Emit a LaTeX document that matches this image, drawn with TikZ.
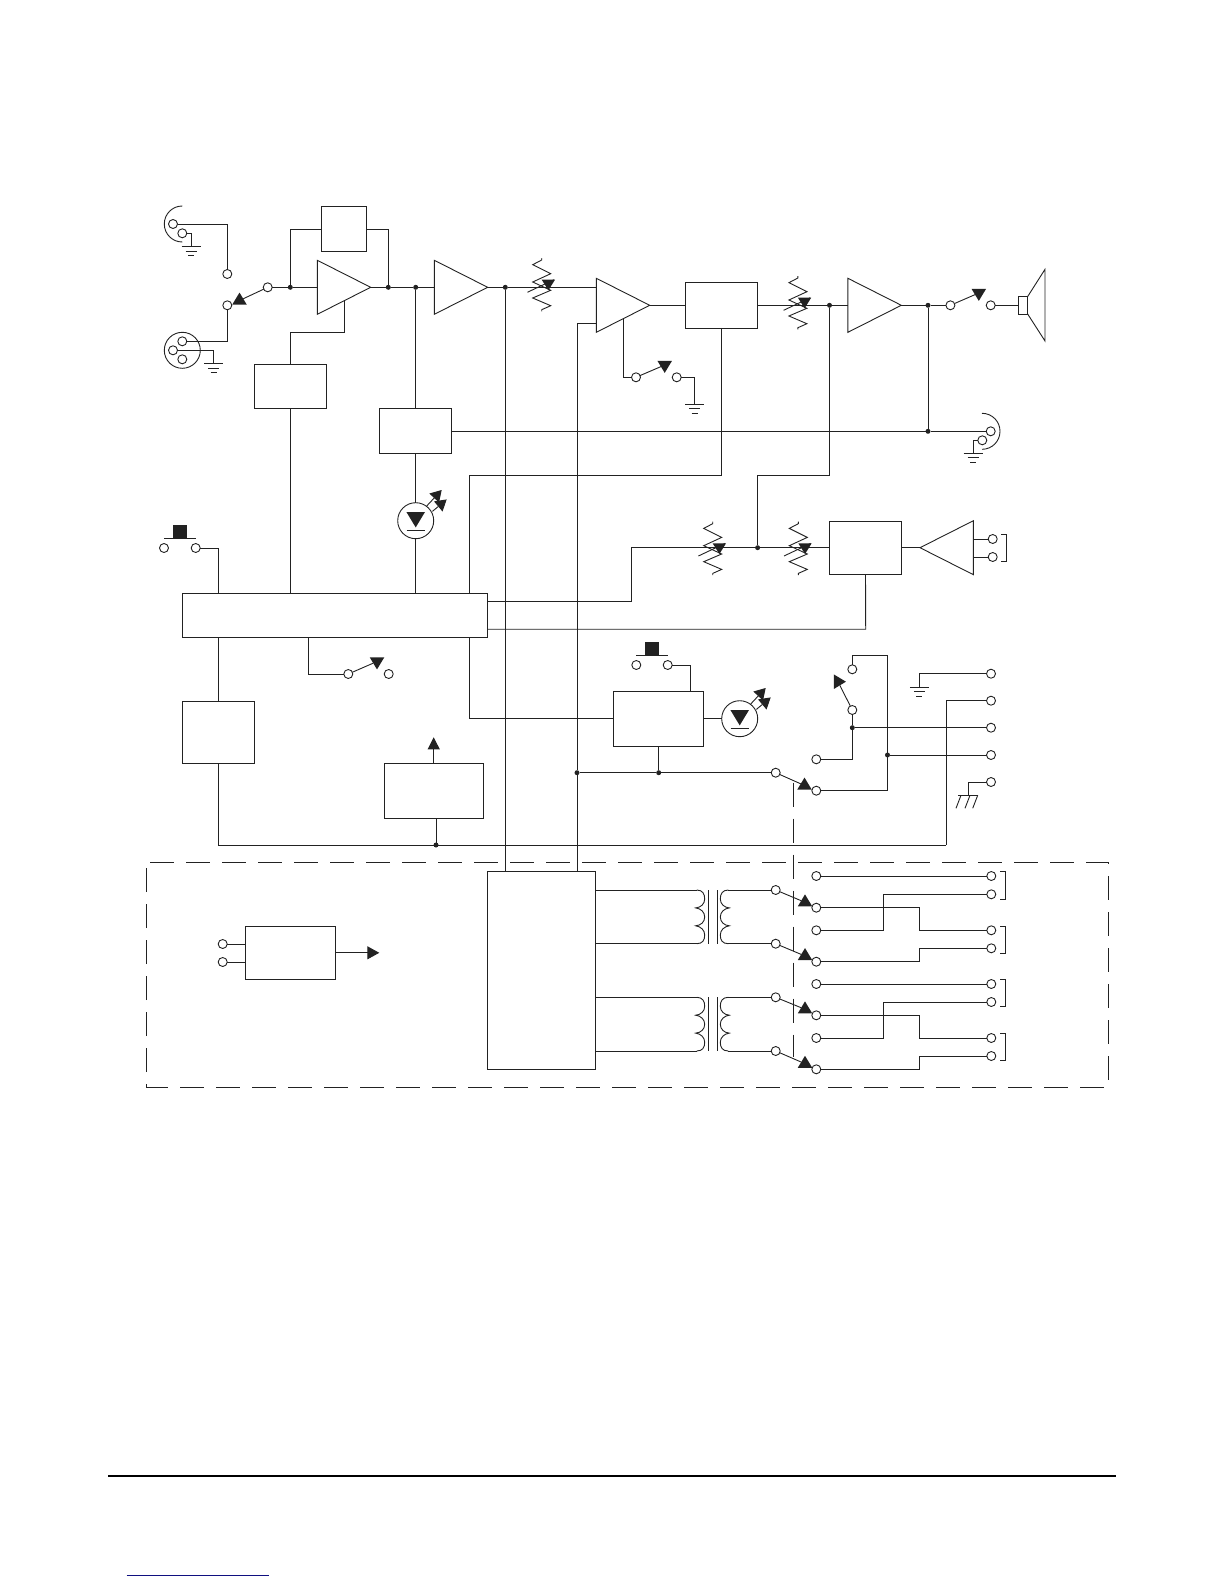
\documentclass[tikz,border=0pt]{standalone}
\usetikzlibrary{shapes.geometric,arrows.meta}
\definecolor{ink}{HTML}{222222}
\definecolor{linkblue}{HTML}{101080}
\tikzset{
	every node/.style={outer sep=0pt},
	blk/.style={draw=ink, rectangle, inner sep=0pt},
	term/.style={draw=ink, fill=white, circle, inner sep=0pt, minimum size=9pt},
	dotj/.style={fill=ink, circle, inner sep=0pt, minimum size=5pt},
	amp/.style={draw=ink, isosceles triangle, isosceles triangle stretches, inner sep=0pt, minimum width=54pt, minimum height=53.4pt, anchor=apex},
	tipm/.style={fill=ink, isosceles triangle, isosceles triangle stretches, inner sep=0pt, minimum width=14.5pt, minimum height=12pt, shape border rotate=#1},
	ring/.style={draw=ink, circle, inner sep=0pt, minimum size=36pt},
	gnd/.pic={
		\draw (-9.5,0) -- (9.5,0);
		\draw (-5.5,4.6) -- (5.5,4.6);
		\draw (-3,9.2) -- (3,9.2);
	},
	chassis/.pic={
		\draw (-10.4,0) -- (9,0);
		\draw (-7.7,0) -- (-12.7,13);
		\draw (1.3,0) -- (-3.7,13);
		\draw (9,0) -- (4,13);
	},
	vres/.pic={
		\draw (0,-26) -- (0,-24) -- (-9,-19.3) -- (9,-10.3) -- (-9,-2) -- (9,6.3) -- (-9,14) -- (9,21.7) -- (0,25.7) -- (0,27.3);
		\draw (-14.3,8.3) -- (12.3,-4.3);
		\fill (0,-4.3) -- (13.3,-4.3) -- (6.7,6.3) -- cycle;
	},
	halfjack/.pic={
		\draw (0,-18) .. controls (-10,-18) and (-18,-10) .. (-18,0) .. controls (-18,10) and (-10,18) .. (0,18);
	},
	ledin/.pic={
		\fill (-9.3,-8.7) -- (9.3,-8.7) -- (0,6.7) -- cycle;
		\draw (-9,9.3) -- (9,9.3);
		\draw[-{Triangle[length=11pt,width=13pt]}] (11,-14.7) -- (26,-30.7);
		\draw[-{Triangle[length=11pt,width=13pt]}] (16.7,-9.3) -- (31,-21.3);
	},
	pbtn/.pic={
		\draw (-16,0) -- (16,0);
		\fill (-7,-13) rectangle (7,0);
	},
	coil/.pic={
		\draw (0,0) .. controls (6,0) and (8,4) .. (8,9) .. controls (8,14) and (4,17.5) .. (-1,17.9) .. controls (4,18.5) and (8,22) .. (8,27) .. controls (8,32) and (4,35.5) .. (-1,35.8) .. controls (4,36.5) and (8,40) .. (8,45) .. controls (8,50) and (6,53.7) .. (0,53.7);
	},
}
\begin{document}
\begin{tikzpicture}[x=1pt, y=-1pt, line width=0.9pt, color=ink]
	\useasboundingbox (0,0) rectangle (1224,1584);
	% boxes
	\node[blk, minimum width=45.4pt, minimum height=45.4pt] (boxa) at (344,229) {};
	\node[blk, minimum width=72pt, minimum height=44.4pt] (boxb) at (290.3,386.5) {};
	\node[blk, minimum width=72pt, minimum height=45.2pt] (boxc) at (415.7,430.9) {};
	\node[blk, minimum width=305.4pt, minimum height=44pt] (boxd) at (335,615.3) {};
	\node[blk, minimum width=72.6pt, minimum height=45.3pt] (boxe) at (721.3,305.3) {};
	\node[blk, minimum width=72.4pt, minimum height=53.4pt] (boxf) at (865.5,547.7) {};
	\node[blk, minimum width=90.4pt, minimum height=55pt] (boxg) at (658.5,718.7) {};
	\node[blk, minimum width=72.4pt, minimum height=62.4pt] (boxh) at (218.5,732.5) {};
	\node[blk, minimum width=99.4pt, minimum height=55.4pt] (boxi) at (434,791) {};
	\node[blk, minimum width=108pt, minimum height=197.6pt] (boxj) at (541.3,970.5) {};
	\node[blk, minimum width=90.4pt, minimum height=53pt] (boxk) at (290.5,952.8) {};
	\node[blk, minimum width=9.6pt, minimum height=17.3pt] (spk) at (1022.8,305.3) {};
	% amplifiers
	\node[amp] (ampa) at (370.7,287.3) {};
	\node[amp] (ampb) at (487.7,287.3) {};
	\node[amp] (ampc) at (649.7,305.3) {};
	\node[amp] (ampd) at (901.3,305.3) {};
	\node[amp, shape border rotate=180] (ampe) at (920,547.7) {};
	% terminals
	\foreach \n/\x/\y in {jka1/173/224, jka2/182.3/233.3, jkb1/182.3/341.3, jkb2/173/350.3, jkb3/182.3/359.3,
		jkc1/990.7/431.3, jkc2/982.3/440.3, tsa/227.3/274, tsb/227.3/305.3, tsc/267.7/287.3,
		twa/636/377.3, twb/676.7/377.3, tspa/950.4/305.3, tspb/990.7/305.3, tha/992.7/539, thb/992.7/557,
		pba/164/548, pbb/195.7/548, pbc/636.3/665, pbd/667.7/665, tma/348.3/674, tmb/388.7/674,
		ka/775.7/772.7, kb/816.3/790.7, kc/852.3/669.3, kd/852.3/710, ke/816.3/759.3,
		ra/991/673.7, rb/991/700.7, rc/991/727.7, rd/991/755, re/991/782,
		ua/775.7/890, ub/775.7/943.7, uc/775.7/997.3, ud/775.7/1051,
		va/816.3/907.7, vb/816.3/961.7, vc/816.3/1015.3, vd/816.3/1069.3,
		wa/816.3/876, wb/816.3/930.3, wc/816.3/984, wd/816.3/1038,
		ya/991.3/876, yb/991.3/894.3, yc/991.3/930.3, yd/991.3/948.3,
		ye/991.3/984, yf/991.3/1002, yg/991.3/1038, yh/991.3/1056,
		ia/222.7/944, ib/222.7/962}
		\node[term] (\n) at (\x,\y) {};
	% junctions
	\foreach \n/\x/\y in {dota/290.3/287.3, dotb/388.3/287.3, dotc/415.7/287.3, dotd/505.3/287.3,
		dotj/829.5/305.3, dotl/928/305.3, dotm/928/431.3, dotk/757.6/547.7,
		dotg/577/772.7, doth/658.7/772.7, dotn/852.3/727.7, doto/887.5/755, dotp/436/845}
		\node[dotj] (\n) at (\x,\y) {};
	% switch tips
	\foreach \n/\x/\y/\a in {tipa/239.5/300.5/90, tipb/664.7/365/-90, tipc/978.8/293/-90, tipd/377/661.5/-90,
		tipe/804.5/785.5/90, tipf/805/902.3/90, tipg/805/956/90, tiph/805/1009.3/90, tipi/805/1063.7/90, tipk/838/681.7/0}
		\node[tipm=\a] (\n) at (\x,\y) {};
	% rings
	\node[ring] (jkb) at (182.3,350.3) {};
	\node[ring] (leda) at (415.7,520.7) {};
	\node[ring] (ledb) at (739.7,718.7) {};
	% free ends
	\coordinate (gnda) at (191,246.7);
	\coordinate (gndb) at (213.7,363.7);
	\coordinate (gndc) at (694.5,404);
	\coordinate (gndd) at (973,453.3);
	\coordinate (gnde) at (919.3,687.3);
	\coordinate (chas) at (968.7,795.3);
	\coordinate (ampcin) at (595.7,323.3);
	\coordinate (busa) at (469.7,475.7);
	\coordinate (busb) at (829.5,475.7);
	\coordinate (busc) at (631.7,601.7);
	\coordinate (busd) at (865.7,629.2);
	\coordinate (buse) at (852.3,655.7);
	\coordinate (busf) at (887.5,655.7);
	\coordinate (busg) at (946.3,845);
	\coordinate (xl) at (883.3,0);
	\coordinate (xr) at (919.3,0);
	\coordinate (cpa) at (696.7,890);
	\coordinate (cpb) at (696.7,943.7);
	\coordinate (cpc) at (696.7,997.3);
	\coordinate (cpd) at (696.7,1051);
	\coordinate (csa) at (728.3,890);
	\coordinate (csb) at (728.3,943.7);
	\coordinate (csc) at (728.3,997.3);
	\coordinate (csd) at (728.3,1051);
	% symbols
	\pic at (gnda) {gnd};
	\pic at (gndb) {gnd};
	\pic at (gndc) {gnd};
	\pic at (gndd) {gnd};
	\pic at (gnde) {gnd};
	\pic at (chas) {chassis};
	\pic at (182.3,224) {halfjack};
	\pic[xscale=-1] at (982,431.3) {halfjack};
	\pic at (541.7,284) {vres};
	\pic at (797.9,302) {vres};
	\pic at (712.7,547.7) {vres};
	\pic at (798.3,547.7) {vres};
	\pic at (leda) {ledin};
	\pic at (ledb) {ledin};
	\pic at (180,538.3) {pbtn};
	\pic at (652,655.3) {pbtn};
	\pic at (cpa) {coil};
	\pic at (cpc) {coil};
	\pic[xscale=-1] at (csa) {coil};
	\pic[xscale=-1] at (csc) {coil};
	% input side
	\draw (jka1) -| (tsa);
	\draw (jka2) -| (gnda);
	\draw (jkb1) -| (tsb);
	\draw (jkb2) -| (gndb);
	\draw (tsc) -- (tipa);
	\draw (tsc) -- (dota) -- (dota -| ampa.lower side);
	\draw (dota) |- (boxa.west);
	\draw (boxa.east) -| (dotb);
	\draw (ampa.apex) -- (dotb) -- (dotc) -- (dotc -| ampb.lower side);
	\draw (ampa.right side) |- (290.3,332.3) -- (boxb.north);
	\draw (boxb.south) -- (boxb.south |- boxd.north);
	\draw (dotc) -- (boxc.north);
	\draw (boxc.south) -- (leda);
	\draw (leda) -- (leda |- boxd.north);
	\draw (pbb) -| (boxh.north |- boxd.north);
	\draw (boxd.south -| boxh.north) -- (boxh.north);
	\draw (boxh.south) |- (busg);
	\draw (busg) |- (rb);
	\draw (boxi.south -| dotp) -- (dotp);
	\draw[-{Triangle[length=12pt,width=12pt]}] (boxi.north -| 433.7,0) -- (433.7,737.3);
	\draw (308.3,637.3) |- (tma);
	\draw (tma) -- (tipd);
	% signal path
	\draw (ampb.apex) -- (dotd) -- (dotd -| ampc.lower side);
	\draw (dotd) -- (dotd |- boxj.north);
	\draw (ampcin) -| (dotg);
	\draw (dotg) -- (dotg |- boxj.north);
	\draw (dotg) -- (doth) -- (ka);
	\draw (boxg.south -| doth) -- (doth);
	\draw (ka) -- (tipe);
	\draw (ampc.apex) -- (boxe.west);
	\draw (ampc.right side) |- (twa);
	\draw (twa) -- (tipb);
	\draw (twb) -| (gndc);
	\draw (boxe.east) -- (dotj) -- (dotj -| ampd.lower side);
	\draw (ampd.apex) -- (dotl) -- (tspa);
	\draw (tspa) -- (tipc);
	\draw (tspb) -- (spk.west);
	\draw (spk.north east) -- (1045,269.3) -- (1045,341) -- (spk.south east);
	\draw (dotl) -- (dotm);
	\draw (boxc.east |- dotm) -- (dotm) -- (jkc1);
	\draw (jkc2) -| (gndd);
	\draw (boxe.south) |- (busa) -- (busa |- boxd.north);
	\draw (busa |- boxd.south) |- (boxg.west);
	\draw (dotj) -- (busb) -- (busb -| dotk) -- (dotk);
	\draw (busc -| boxd.east) -- (busc) |- (boxf.west);
	\draw (busd -| boxd.east) -- (busd) -- (boxf.south);
	\draw (boxf.east) -- (ampe.apex);
	\draw (tha) -- (tha -| ampe.lower side);
	\draw (thb) -- (thb -| ampe.lower side);
	\draw (1001.3,534) -| (1006,561.3) -- (1001.3,561.3);
	% line panel
	\draw (pbd) -| (boxg.north -| 690.3,0);
	\draw (boxg.east) -- (ledb);
	\draw (kb) -| (busf) -- (buse) -- (kc);
	\draw (doto) -- (rd);
	\draw (kd) -- (dotn) -- (rc);
	\draw (dotn) |- (ke);
	\draw (kd) -- (tipk);
	\draw (ra) -| (gnde);
	\draw (re) -| (chas);
	% option card
	\draw[dash pattern=on 24pt off 12pt] (150,862.3) -| (1108.3,1087.3) -| (146.7,862.3);
	\draw[dash pattern=on 24pt off 12pt] (793.7,782.7) -- (793.7,1057);
	\foreach \a/\b/\c in {cpa/csa/ua, cpb/csb/ub, cpc/csc/uc, cpd/csd/ud} {
		\draw (boxj.east |- \a) -- (\a);
		\draw (\b) -- (\c);
	}
	\foreach \b/\c in {ua/tipf, ub/tipg, uc/tiph, ud/tipi}
		\draw (\b) -- (\c);
	\draw (708.3,890) -- (708.3,943.7);
	\draw (717.3,890) -- (717.3,943.7);
	\draw (708.3,997.3) -- (708.3,1051);
	\draw (717.3,997.3) -- (717.3,1051);
	\foreach \a/\b in {wa/ya, wc/ye}
		\draw (\a) -- (\b);
	\foreach \a/\b in {wb/yb, wd/yf}
		\draw (\a) -- (\a -| xl) -- (\b -| xl) -- (\b);
	\foreach \a/\b in {va/yc, vb/yd, vc/yg, vd/yh}
		\draw (\a) -- (\a -| xr) -- (\b -| xr) -- (\b);
	\foreach \t/\b in {871.7/899, 926/953.3, 979.7/1006.3, 1033.3/1060.3}
		\draw (1000,\t) -| (1005,\b) -- (1000,\b);
	% receiver
	\draw (ia) -- (ia -| boxk.west);
	\draw (ib) -- (ib -| boxk.west);
	\draw[-{Triangle[length=12pt,width=13pt]}] (boxk.east) -- (379.3,952.8);
	% page rules
	\coordinate (rla) at (108,1475.7);
	\coordinate (rlb) at (1116,1475.7);
	\coordinate (lka) at (126.7,1575.3);
	\coordinate (lkb) at (269,1575.3);
	\draw[line width=1.8pt, black] (rla) -- (rlb);
	\draw[linkblue] (lka) -- (lkb);
\end{tikzpicture}
\end{document}
